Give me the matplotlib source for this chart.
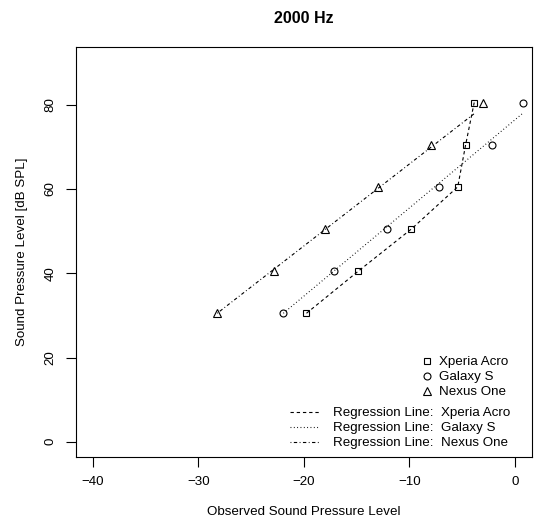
import matplotlib
matplotlib.use("Agg")
import matplotlib.pyplot as plt
from matplotlib.lines import Line2D

plt.rcParams['font.family'] = ['Liberation Sans', 'DejaVu Sans']
plt.rcParams['font.size'] = 9.6

# True levels played and what each phone reported
true_spl = [30.5, 40.5, 50.5, 60.5, 70.5, 80.5]
xperia_obs = [-19.75, -14.84, -9.81, -5.43, -4.68, -3.87]
galaxy_obs = [-21.94, -17.17, -12.17, -7.20, -2.23, 0.75]
nexus_obs = [-28.20, -22.86, -17.97, -12.95, -7.95, -3.00]

# Regression lines (ends / vertices)
xperia_fit_x = xperia_obs
xperia_fit_y = true_spl
galaxy_fit_x = [-21.94, 0.75]
galaxy_fit_y = [30.5, 78.0]
nexus_fit_x = [-28.20, -3.90]
nexus_fit_y = [30.5, 77.8]

devices = ["Xperia Acro", "Galaxy S", "Nexus One"]
markers = ['s', 'o', '^']
msizes = [4.6, 5.0, 5.6]
dash_styles = [(0, (3.0, 2.6)), (0, (0.8, 2.2)), (0, (0.8, 2.2, 3.0, 2.2))]
fs = 9.6


def main():
    fig = plt.figure(figsize=(5.39, 5.24), dpi=100)
    ax = fig.add_axes([0.1404, 0.1279, 0.8466, 0.7818])

    obs = [xperia_obs, galaxy_obs, nexus_obs]
    fits = [(xperia_fit_x, xperia_fit_y), (galaxy_fit_x, galaxy_fit_y),
            (nexus_fit_x, nexus_fit_y)]

    for i in range(3):
        ax.plot(obs[i], true_spl, linestyle='none', marker=markers[i],
                ms=msizes[i], mfc='none', mec='black', mew=0.8)
        ax.plot(fits[i][0], fits[i][1], color='black', lw=0.8,
                linestyle=dash_styles[i])

    ax.set_xlim(-41.6, 1.6)
    ax.set_ylim(-3.6, 93.6)
    ax.set_xticks([-40, -30, -20, -10, 0])
    ax.set_xticklabels(['\u221240', '\u221230', '\u221220', '\u221210', '0'])
    ax.set_yticks([0, 20, 40, 60, 80])
    for lbl in ax.get_yticklabels():
        lbl.set_rotation(90)
        lbl.set_va('center')
    ax.tick_params(direction='out', length=7, width=0.8, labelsize=fs, pad=7)
    for s in ax.spines.values():
        s.set_linewidth(0.8)

    ax.set_title("2000 Hz", fontsize=fs * 1.2, fontweight='bold', pad=17.5)
    ax.set_xlabel("Observed Sound Pressure Level", fontsize=fs, labelpad=13)
    ax.set_ylabel("Sound Pressure Level [dB SPL]", fontsize=fs, labelpad=12)

    # point legend
    pt_handles = [Line2D([], [], linestyle='none', marker=markers[i],
                         ms=msizes[i], mfc='none', mec='black', mew=0.8)
                  for i in range(3)]
    leg1 = ax.legend(pt_handles, devices, loc='upper left',
                     bbox_to_anchor=(422 / 539, 1 - 356 / 524),
                     bbox_transform=fig.transFigure, frameon=False,
                     handlelength=0.8, handletextpad=0.45, labelspacing=0.2,
                     borderpad=0, borderaxespad=0, fontsize=fs)
    ax.add_artist(leg1)

    # regression line legend
    ln_handles = [Line2D([], [], color='black', lw=0.8, linestyle=dash_styles[i])
                  for i in range(3)]
    ax.legend(ln_handles, ["Regression Line:  " + d for d in devices],
              loc='upper left', bbox_to_anchor=(290 / 539, 1 - 407 / 524),
              bbox_transform=fig.transFigure, frameon=False,
              handlelength=2.2, handletextpad=1.0, labelspacing=0.2,
              borderpad=0, borderaxespad=0, fontsize=fs)

    plt.savefig('out.png', dpi=100)


if __name__ == '__main__':
    main()
